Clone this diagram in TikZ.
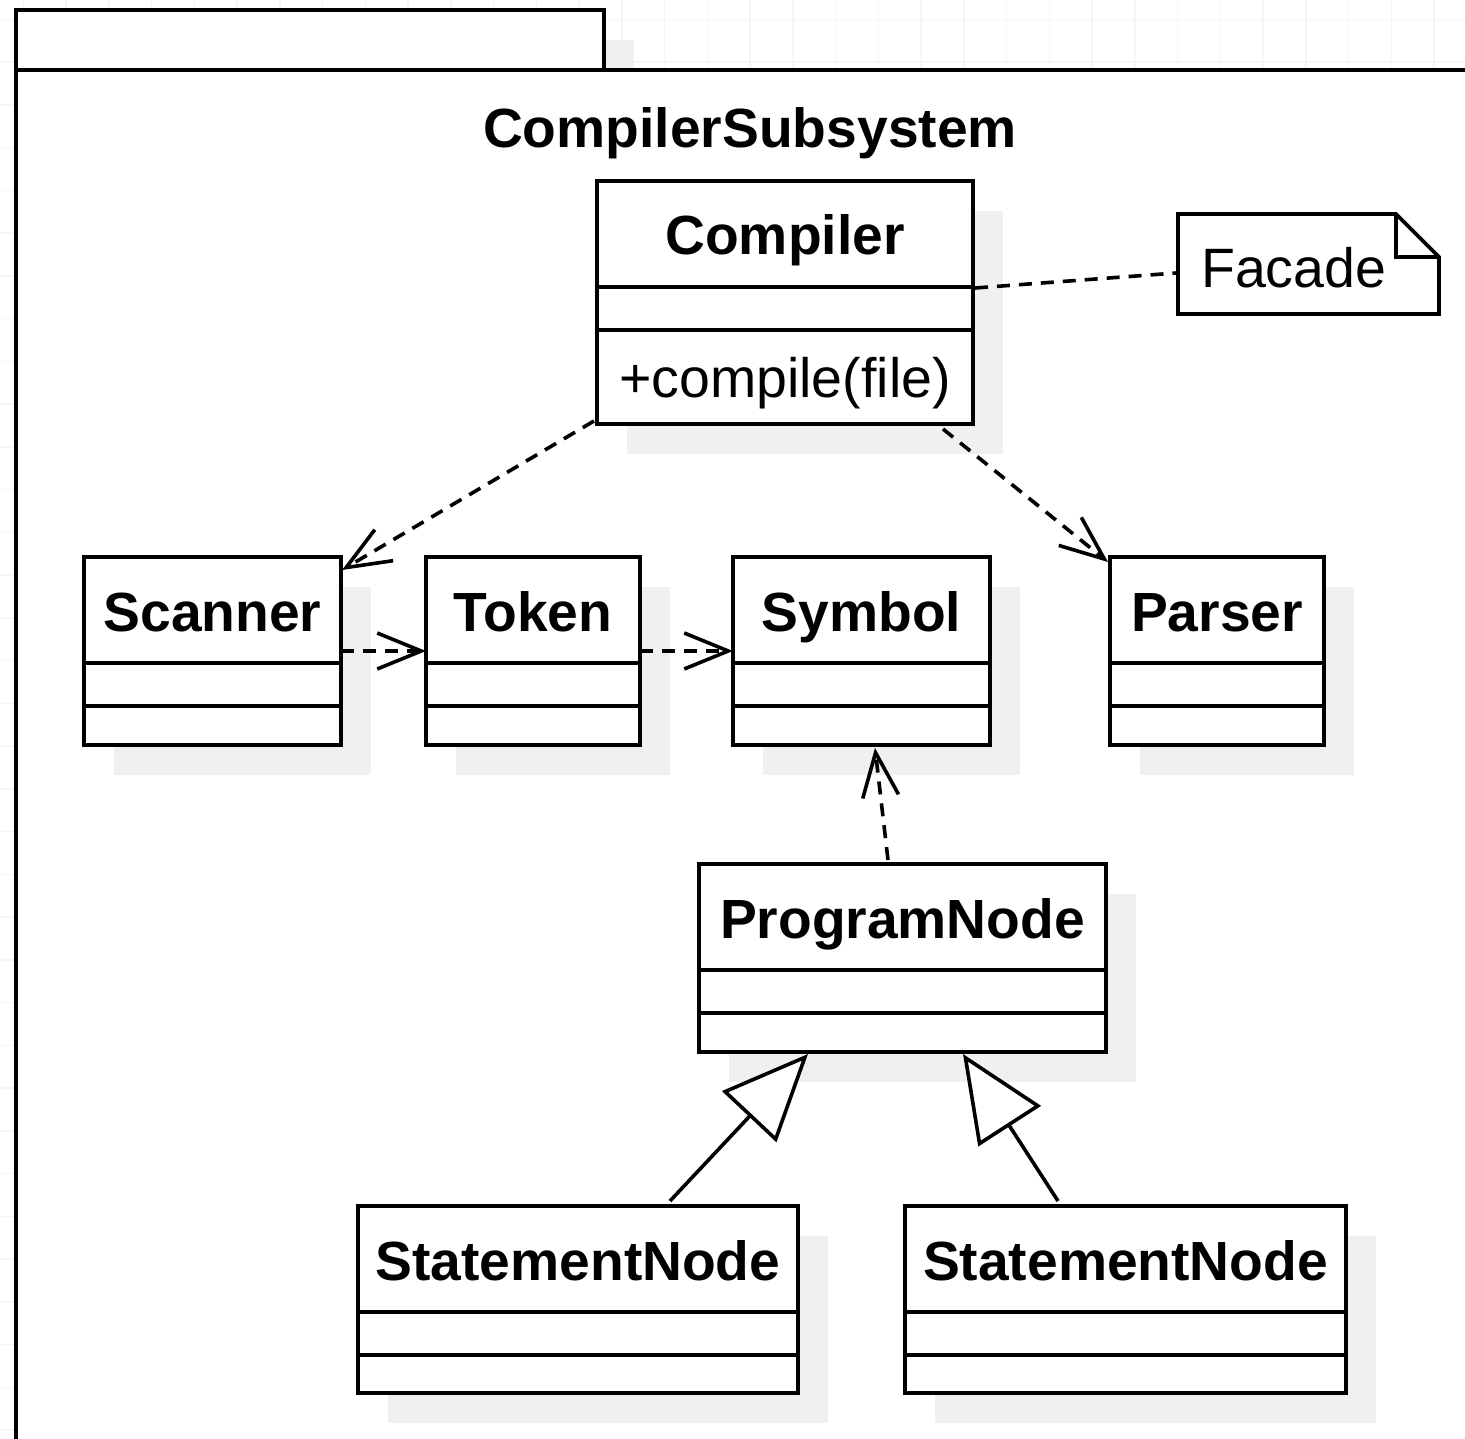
\documentclass[tikz,border=0pt]{standalone}
\usepackage{fontspec}
\setmainfont{Liberation Sans}
\usetikzlibrary{arrows.meta,shadows}

\definecolor{shadowgray}{RGB}{240,240,240}
\definecolor{gridgray}{RGB}{245,245,245}

\tikzset{
  stroke/.style={line width=3.6pt, line join=miter},
  shadowed/.style={drop shadow={shadow xshift=30pt, shadow yshift=-30pt,
      fill=shadowgray, opacity=1}},
  classbox/.style={stroke, draw, fill=white, shadowed, inner sep=0pt,
      outer sep=0pt, anchor=north west},
  boldtext/.style={font=\fontsize{55.2}{66}\selectfont\bfseries, inner sep=0pt, anchor=base},
  plaintext/.style={font=\fontsize{55.5}{66}\selectfont, inner sep=0pt, anchor=base west},
  dep/.style={stroke, dash pattern=on 13pt off 9pt,
      -{Straight Barb[length=44pt, width=36pt]}},
  assoc/.style={stroke, dash pattern=on 13pt off 9pt},
  gen/.style={stroke, -{Triangle[length=86pt, width=74pt, fill=white]}},
  gridline/.style={draw=gridgray, line width=1.5pt}
}

% #1 name, #2 x, #3 y (top-left), #4 width, #5 height, #6 title
\newcommand\umlclass[6]{%
  \node[classbox, minimum width=#4pt, minimum height=#5pt] (#1) at (#2,#3) {};
  \draw[stroke] ([yshift=-106pt]#1.north west) -- ([yshift=-106pt]#1.north east);
  \draw[stroke] ([yshift=-149pt]#1.north west) -- ([yshift=-149pt]#1.north east);
  \node[boldtext] (#1-name) at ([yshift=-74pt]#1.north) {#6};
}

\begin{document}
\begin{tikzpicture}[x=1pt, y=-1pt]
  \useasboundingbox (0,0) rectangle (1465,1439);
  \clip (0,0) rectangle (1465,1439);
  \fill[white] (0,0) rectangle (1465,1439);

  % background grid
  \foreach \i in {0,...,34} {
    \draw[gridline] ({23.3+42.75*\i},0) -- ({23.3+42.75*\i},1439);
    \draw[gridline] (0,{19.3+42.75*\i}) -- (1465,{19.3+42.75*\i});
  }

  % package frame
  \node[classbox, minimum width=588pt, minimum height=60pt] (pkgtab) at (16,10) {};
  \node[classbox, drop shadow={opacity=0}, minimum width=1500pt, minimum height=1450pt] (pkgbody) at (16,70) {};
  \node[boldtext] (pkgtitle) at (750,148) {CompilerSubsystem};

  % classes
  \umlclass{compiler}{597}{181}{376}{243}{Compiler}
  \node[plaintext] (compiler-op) at ([shift={(22,216)}]compiler.north west) {+compile(file)};

  \umlclass{scanner}{84}{557}{257}{188}{Scanner}
  \umlclass{token}{426}{557}{214}{188}{Token}
  \umlclass{symbol}{733}{557}{257}{188}{Symbol}
  \umlclass{parser}{1110}{557}{214}{188}{Parser}
  \umlclass{programnode}{699}{864}{407}{188}{ProgramNode}
  \umlclass{stmt1}{358}{1206}{440}{187}{StatementNode}
  \umlclass{stmt2}{905}{1206}{441}{187}{StatementNode}

  % note
  \node[inner sep=0pt, outer sep=0pt, anchor=north west, minimum width=261pt,
        minimum height=100pt] (facade) at (1178,214) {};
  \draw[stroke, fill=white] (facade.north west) -- ([xshift=-43pt]facade.north east)
     -- ([yshift=-43pt]facade.north east) -- (facade.south east)
     -- (facade.south west) -- cycle;
  \draw[stroke] ([xshift=-43pt]facade.north east) -- ([xshift=-43pt,yshift=-43pt]facade.north east)
     -- ([yshift=-43pt]facade.north east);
  \node[plaintext] (facade-text) at (1201,288) {Facade};

  % connectors
  \draw[assoc] ([shift={(2,-14.5)}]compiler.east) -- ([shift={(-2,9)}]facade.west);
  \draw[dep] ([shift={(-3,-3)}]compiler.south west) -- ([shift={(1,13)}]scanner.north east);
  \draw[dep] ([shift={(346,5)}]compiler.south west) -- ([shift={(-2,5)}]parser.north west);
  \draw[dep] (scanner.east) -- (token.west);
  \draw[dep] (token.east) -- (symbol.west);
  \draw[dep] ([shift={(-14.5,-4)}]programnode.north) -- ([shift={(13.5,3)}]symbol.south);
  \draw[gen] ([shift={(92,-5)}]stmt1.north) -- ([shift={(-94.5,2)}]programnode.south);
  \draw[gen] ([shift={(-67.5,-5)}]stmt2.north) -- ([shift={(60.5,2)}]programnode.south);
\end{tikzpicture}
\end{document}
